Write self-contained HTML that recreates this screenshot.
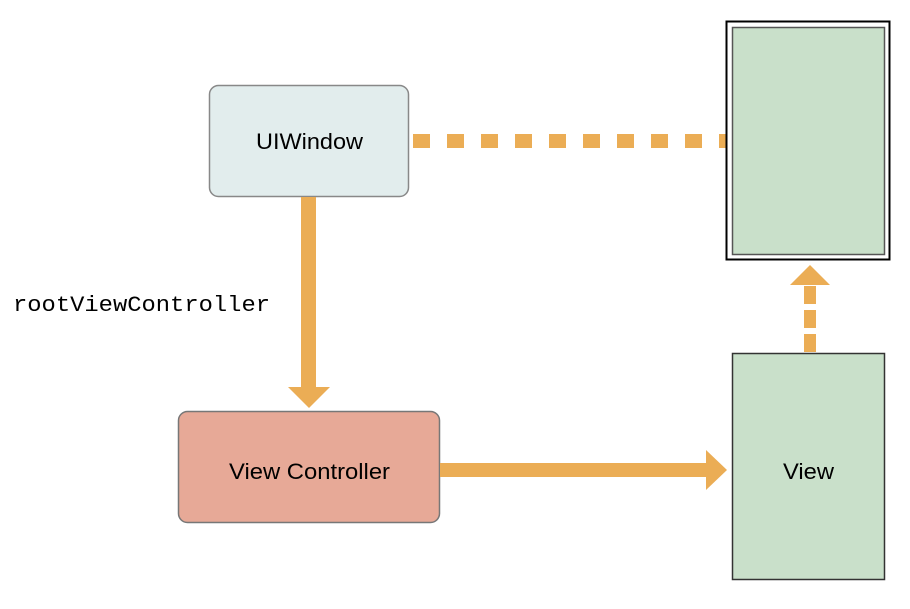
<!DOCTYPE html>
<html><head><style>body{margin:0;background:#fff}</style></head><body>
<svg width="910" height="604" xmlns="http://www.w3.org/2000/svg">
<rect x="0" y="0" width="910" height="604" fill="#fff"/>
<line x1="413" y1="141" x2="728" y2="141" stroke="#ebad55" stroke-width="14" stroke-dasharray="17,17"/>
<rect x="726.5" y="21.5" width="163" height="238" fill="#fff" stroke="#000" stroke-width="2"/>
<rect x="732.5" y="27.5" width="152" height="227" fill="#c9e0ca" stroke="#555" stroke-width="1.5"/>
<line x1="810" y1="352" x2="810" y2="285" stroke="#ebad55" stroke-width="12" stroke-dasharray="18,6"/>
<polygon points="790,285 830,285 810,265" fill="#ebad55"/>
<rect x="732.5" y="353.5" width="152" height="226" fill="#c9e0ca" stroke="#333" stroke-width="1.5"/>
<text x="783" y="479" font-family="Liberation Sans, sans-serif" font-size="22" textLength="51" lengthAdjust="spacingAndGlyphs">View</text>
<rect x="209.5" y="85.5" width="199" height="111" rx="9" fill="#e2eded" stroke="#888" stroke-width="1.5"/>
<text x="256" y="149" font-family="Liberation Sans, sans-serif" font-size="22" textLength="107" lengthAdjust="spacingAndGlyphs">UIWindow</text>
<rect x="301" y="197" width="15" height="191" fill="#ebad55"/>
<polygon points="288,387 330,387 309,408" fill="#ebad55"/>
<text x="13" y="311" font-family="Liberation Mono, monospace" font-size="22" textLength="257" lengthAdjust="spacingAndGlyphs">rootViewController</text>
<rect x="178.5" y="411.5" width="261" height="111" rx="9" fill="#e7a997" stroke="#777" stroke-width="1.5"/>
<text x="229" y="479" font-family="Liberation Sans, sans-serif" font-size="22" textLength="161" lengthAdjust="spacingAndGlyphs">View Controller</text>
<rect x="440" y="463" width="267" height="14" fill="#ebad55"/>
<polygon points="706,450 706,490 727,470" fill="#ebad55"/>
</svg>
</body></html>
